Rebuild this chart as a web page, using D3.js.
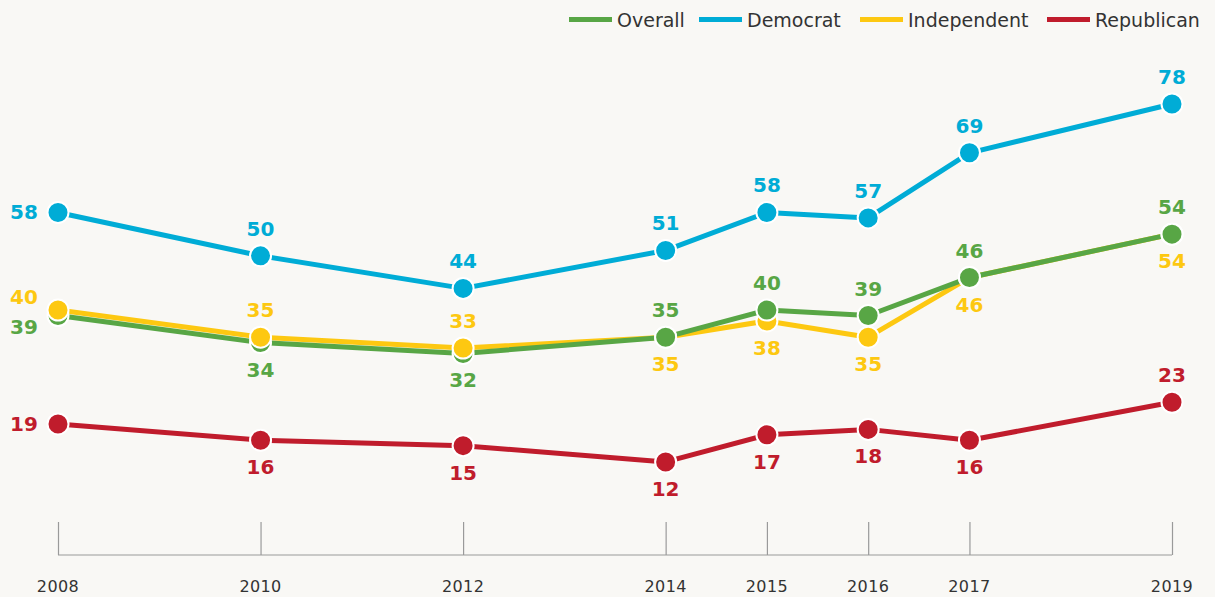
<!DOCTYPE html>
<html>
<head>
<meta charset="utf-8">
<script src="https://cdn.jsdelivr.net/npm/d3@7"></script>
<style>
  html, body { margin: 0; padding: 0; background: #f9f8f5; }
  svg { display: block; }
</style>
</head>
<body>
<svg id="chart" width="1215" height="597"></svg>
<script>
'use strict'
// chart data
var years = [2008, 2010, 2012, 2014, 2015, 2016, 2017, 2019];
var overall = [39, 34, 32, 35, 40, 39, 46, 54];
var democrat = [58, 50, 44, 51, 58, 57, 69, 78];
var independent = [40, 35, 33, 35, 38, 35, 46, 54];
var republican = [19, 16, 15, 12, 17, 18, 16, 23];
var seriesNames = ['Overall', 'Democrat', 'Independent', 'Republican'];

// where each value label sits: l = left, a = above, b = below
var overallPos = ['lb', 'b', 'b', 'a', 'a', 'a', 'a', 'a'];
var democratPos = ['l', 'a', 'a', 'a', 'a', 'a', 'a', 'a'];
var independentPos = ['la', 'a', 'a', 'b', 'b', 'b', 'b', 'b'];
var republicanPos = ['l', 'b', 'b', 'b', 'b', 'b', 'b', 'a'];

var colors = {
	Overall: '#58a645',
	Democrat: '#00acd6',
	Independent: '#fdc811',
	Republican: '#c01c2c'
};

var series = [
	{ name: 'Democrat', values: democrat, pos: democratPos, order: 0 },
	{ name: 'Republican', values: republican, pos: republicanPos, order: 1 },
	{ name: 'Independent', values: independent, pos: independentPos, order: 2 },
	{ name: 'Overall', values: overall, pos: overallPos, order: 3 }
];

var svg = d3.select('#chart');

var x = d3.scaleLinear().domain([2008, 2019]).range([58, 1172]);
var y = d3.scaleLinear().domain([0, 78]).range([527, 104]);

/* ======================= axis ======================= */
var axisY = 555;
var axis = d3.axisBottom(x)
	.tickValues(years)
	.tickFormat(d3.format('d'))
	.tickSize(33);

var gAxis = svg.append('g')
	.attr('transform', 'translate(0,' + (axisY - 33) + ')')
	.call(axis);
gAxis.select('.domain').remove();
gAxis.selectAll('.tick line').attr('stroke', '#9a9a9a').attr('stroke-width', 1.2);
gAxis.selectAll('.tick text').remove();

svg.append('line')
	.attr('x1', x(2008)).attr('x2', x(2019))
	.attr('y1', axisY).attr('y2', axisY)
	.attr('stroke', '#9a9a9a').attr('stroke-width', 1.2);

svg.append('g').selectAll('text')
	.data(years).enter()
	.append('text')
	.attr('x', function(d) { return x(d); })
	.attr('y', 592)
	.attr('text-anchor', 'middle')
	.attr('font-family', '"DejaVu Sans", sans-serif')
	.attr('font-size', 16)
	.attr('letter-spacing', 0.4)
	.attr('fill', '#333')
	.text(function(d) { return d; });

/* ======================= lines ======================= */
var line = d3.line()
	.x(function(d) { return x(d.year); })
	.y(function(d) { return y(d.value); });

function points(s) {
	return years.map(function(yr, i) {
		return { year: yr, value: s.values[i], pos: s.pos[i], name: s.name, order: s.order };
	});
}

svg.append('g').selectAll('path')
	.data(series).enter()
	.append('path')
	.attr('d', function(s) { return line(points(s)); })
	.attr('fill', 'none')
	.attr('stroke', function(s) { return colors[s.name]; })
	.attr('stroke-width', 5)
	.attr('stroke-linejoin', 'round');

// dots: higher value drawn on top, ties go to Overall
var allPoints = [];
series.forEach(function(s) { allPoints = allPoints.concat(points(s)); });
allPoints.sort(function(a, b) { return a.value - b.value || a.order - b.order; });

svg.append('g').selectAll('circle')
	.data(allPoints).enter()
	.append('circle')
	.attr('cx', function(d) { return x(d.year); })
	.attr('cy', function(d) { return y(d.value); })
	.attr('r', 10.5)
	.attr('fill', function(d) { return colors[d.name]; })
	.attr('stroke', '#fff')
	.attr('stroke-width', 2);

/* ======================= value labels ======================= */
function labelX(d) {
	return d.pos.charAt(0) === 'l' ? x(d.year) - 34 : x(d.year);
}
function labelY(d) {
	var cy = y(d.value);
	if (d.pos === 'l') return cy + 7;
	if (d.pos === 'la') return cy - 6;
	if (d.pos === 'lb') return cy + 18;
	if (d.pos === 'a') return cy - 20;
	return cy + 34;
}

svg.append('g').selectAll('text')
	.data(allPoints).enter()
	.append('text')
	.attr('x', labelX)
	.attr('y', labelY)
	.attr('text-anchor', 'middle')
	.attr('font-family', '"DejaVu Sans", sans-serif')
	.attr('font-weight', 'bold')
	.attr('font-size', 20)
	.attr('fill', function(d) { return colors[d.name]; })
	.text(function(d) { return d.value; });

/* ======================= legend ======================= */
var legendX = [569, 699, 860, 1047];
var legend = svg.append('g').selectAll('g')
	.data(seriesNames).enter()
	.append('g')
	.attr('transform', function(d, i) { return 'translate(' + legendX[i] + ',19.5)'; });

legend.append('line')
	.attr('x1', 0).attr('x2', 43)
	.attr('stroke', function(d) { return colors[d]; })
	.attr('stroke-width', 5);

legend.append('text')
	.attr('x', 48)
	.attr('y', 7)
	.attr('font-family', '"DejaVu Sans", sans-serif')
	.attr('font-size', 19)
	.attr('fill', '#333')
	.text(function(d) { return d; });
</script>
</body>
</html>
